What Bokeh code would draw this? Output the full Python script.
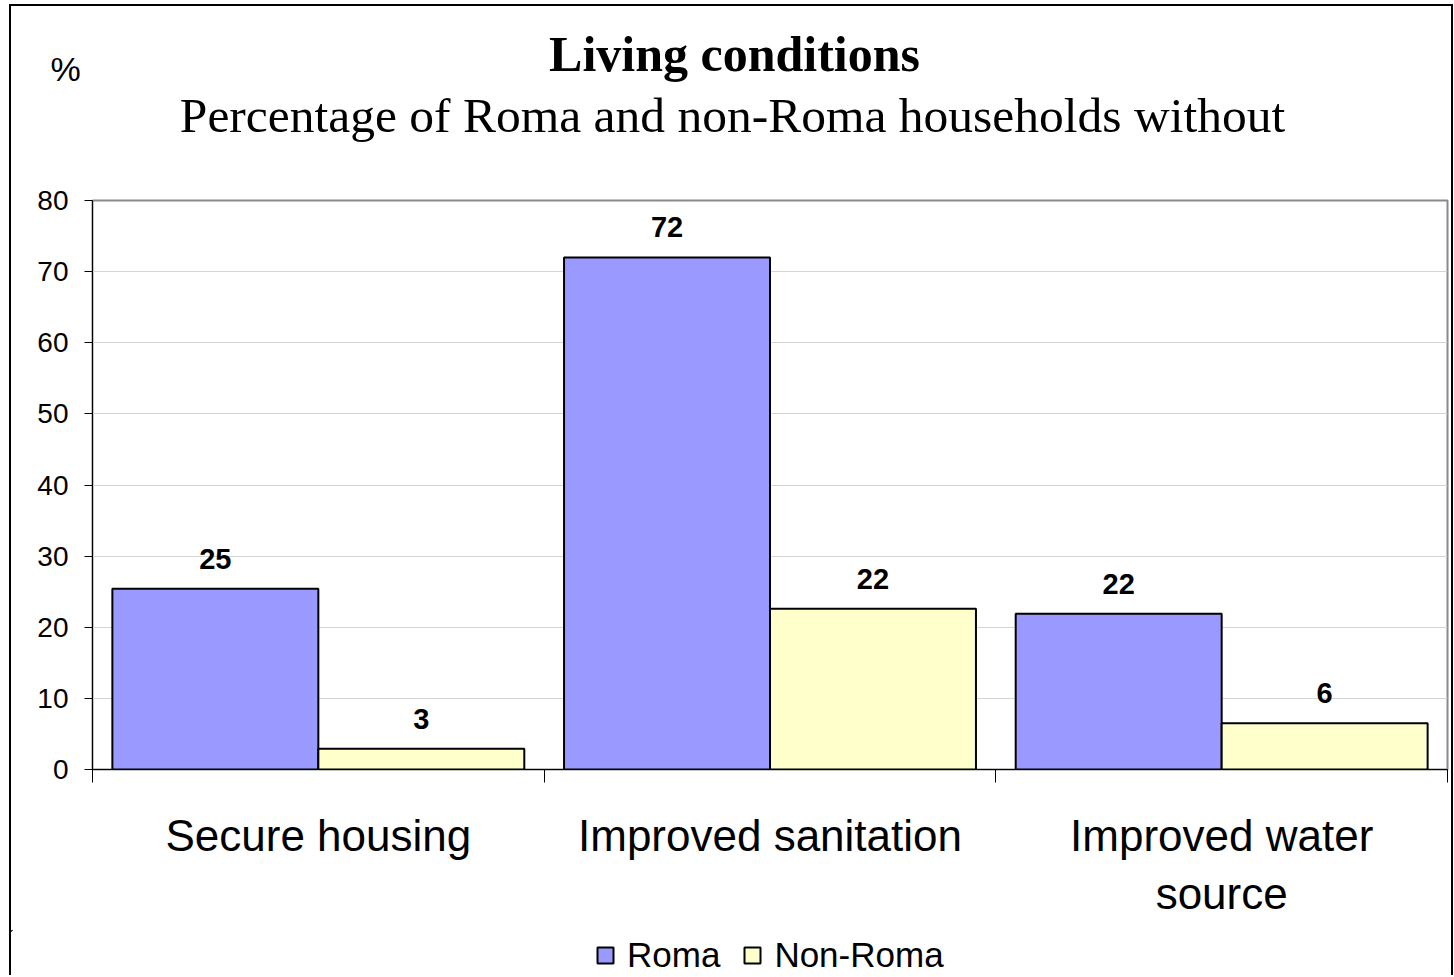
from bokeh.plotting import figure
from bokeh.layouts import column
from bokeh.models import Range1d, FixedTicker, Legend, LegendItem, ColumnDataSource
from bokeh.embed import file_html
from bokeh.resources import INLINE
from bokeh.core.properties import value

# ---- data ----
categories = ["Secure housing", "Improved sanitation", "Improved water\nsource"]
series_names = ["Roma", "Non-Roma"]
roma = [25.4, 72.0, 21.9]
non_roma = [2.9, 22.6, 6.5]
roma_labels = ["25", "72", "22"]
non_roma_labels = ["3", "22", "6"]
y_ticks = [0, 10, 20, 30, 40, 50, 60, 70, 80]

title_text = "Living conditions"
subtitle_text = "Percentage of Roma and non-Roma households without"
unit_text = "%"

ROMA_COLOR = "#9999FF"
NONROMA_COLOR = "#FFFFCC"
SANS = "Liberation Sans"
SERIF = "Liberation Serif"

W = 1440
TITLE_H, MAIN_H, LEG_H = 174, 750, 45


def bare(fig):
    fig.axis.visible = False
    fig.grid.visible = False
    fig.outline_line_color = None
    fig.background_fill_color = "white"
    fig.border_fill_color = "white"
    fig.frame_align = False
    return fig


# ---- title strip ----
tf = bare(figure(width=W, height=TITLE_H, output_backend="svg", toolbar_location=None,
                 x_range=Range1d(0, W), y_range=Range1d(0, TITLE_H),
                 min_border_left=0, min_border_right=0, min_border_top=0, min_border_bottom=0))
tf.text(x=[723], y=[127], text=[title_text], text_align="center", text_baseline="alphabetic",
        text_font=value(SERIF), text_font_size="50px", text_font_style="bold", text_color="black")
tf.text(x=[721], y=[65], text=[subtitle_text], text_align="center", text_baseline="alphabetic",
        text_font=value(SERIF), text_font_size="49.5px", text_color="black")
tf.text(x=[39], y=[112], text=[unit_text], text_align="left", text_baseline="alphabetic",
        text_font=value(SANS), text_font_size="34px", text_color="black")

# ---- main chart ----
n = len(categories)
bar_w = 0.456
centers = [i + 0.5 for i in range(n)]
roma_x = [c - bar_w / 2 for c in centers]
non_x = [c + bar_w / 2 for c in centers]

src_r = ColumnDataSource(dict(x=roma_x, top=roma, lab=roma_labels))
src_n = ColumnDataSource(dict(x=non_x, top=non_roma, lab=non_roma_labels))

p = figure(width=W, height=MAIN_H, output_backend="svg", toolbar_location=None,
           x_range=Range1d(0, n), y_range=Range1d(0, 80),
           min_border_left=81, min_border_right=4, min_border_top=20, min_border_bottom=161)
p.frame_align = False
p.background_fill_color = "white"
p.border_fill_color = "white"
p.outline_line_color = "#8a8a8a"
p.outline_line_width = 2

r1 = p.vbar(x="x", top="top", width=bar_w, source=src_r, fill_color=ROMA_COLOR,
            line_color="black", line_width=2)
r2 = p.vbar(x="x", top="top", width=bar_w, source=src_n, fill_color=NONROMA_COLOR,
            line_color="black", line_width=2)

for s in (src_r, src_n):
    p.text(x="x", y="top", text="lab", source=s, text_align="center", text_baseline="alphabetic",
           y_offset=-30, text_font=value(SANS), text_font_size="29px", text_font_style="bold",
           text_color="black")

p.xgrid.visible = False
p.ygrid.grid_line_color = "#d4d4d4"
p.ygrid.grid_line_width = 1
p.ygrid.ticker = FixedTicker(ticks=y_ticks)

ya = p.yaxis[0]
ya.ticker = FixedTicker(ticks=y_ticks)
ya.axis_line_color = "black"
ya.axis_line_width = 1
ya.major_tick_line_color = "black"
ya.major_tick_out = 8
ya.major_tick_in = 0
ya.minor_tick_line_color = None
ya.major_label_text_font = SANS
ya.major_label_text_font_size = "28px"
ya.major_label_text_color = "black"
ya.major_label_standoff = 16

xa = p.xaxis[0]
xa.ticker = FixedTicker(ticks=centers, minor_ticks=list(range(n + 1)))
xa.major_label_overrides = {c: lab for c, lab in zip(centers, categories)}
xa.axis_line_color = "black"
xa.axis_line_width = 1
xa.major_tick_out = 0
xa.major_tick_in = 0
xa.minor_tick_out = 13
xa.minor_tick_in = 0
xa.minor_tick_line_color = "black"
xa.major_label_text_font = SANS
xa.major_label_text_font_size = "44px"
xa.major_label_text_color = "black"
xa.major_label_standoff = 28

# ---- legend strip (proxy renderers share the data; the strip's view lies away from the bars) ----
lf = bare(figure(width=W, height=LEG_H, output_backend="svg", toolbar_location=None,
                 x_range=Range1d(10, 11), y_range=Range1d(-200, -100),
                 min_border_left=0, min_border_right=0, min_border_top=0, min_border_bottom=0))
lr1 = lf.vbar(x="x", top="top", width=bar_w, source=src_r, fill_color=ROMA_COLOR,
              line_color="black", line_width=2)
lr2 = lf.vbar(x="x", top="top", width=bar_w, source=src_n, fill_color=NONROMA_COLOR,
              line_color="black", line_width=2)
legend = Legend(items=[LegendItem(label=series_names[0], renderers=[lr1]),
                       LegendItem(label=series_names[1], renderers=[lr2])],
                orientation="horizontal", location=(584, 0),
                label_text_font=SANS, label_text_font_size="35px", label_text_color="black",
                glyph_width=20, glyph_height=20, label_standoff=12, spacing=22,
                padding=0, margin=0, border_line_color=None, background_fill_alpha=0)
lf.add_layout(legend, "center")

layout = column(tf, p, lf, spacing=0,
                styles={"margin-left": "9px", "margin-top": "4px",
                        "border-left": "2px solid black", "border-top": "2px solid black",
                        "border-right": "2px solid black"})

open("out.html", "w").write(file_html(layout, INLINE))
